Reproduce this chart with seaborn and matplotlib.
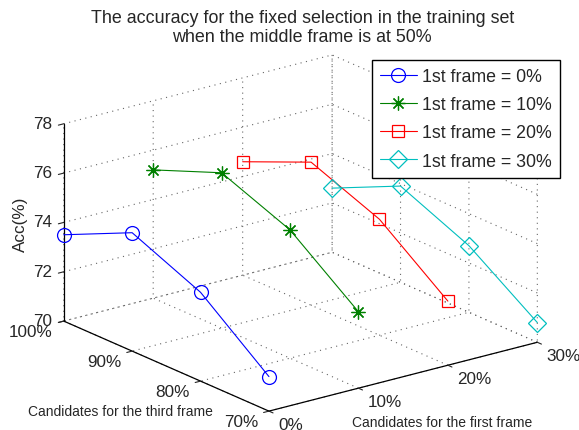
import matplotlib
matplotlib.use("Agg")
import matplotlib.pyplot as plt
import seaborn as sns

# ---- data ----
first_frame = [0, 10, 20, 30]            # candidates for the first frame (%)
third_frame = [100, 90, 80, 70]          # candidates for the third frame (%)
acc_first_0 = [73.5, 74.8, 73.6, 71.4]
acc_first_10 = [75.2, 76.3, 75.2, 73.1]
acc_first_20 = [74.6, 75.8, 74.7, 72.6]
acc_first_30 = [72.6, 73.9, 72.7, 70.8]
series_labels = ["1st frame = 0%", "1st frame = 10%", "1st frame = 20%", "1st frame = 30%"]
x_ticks = [0, 10, 20, 30]
x_ticklabels = ["0%", "10%", "20%", "30%"]
y_ticks = [70, 80, 90, 100]
y_ticklabels = ["70%", "80%", "90%", "100%"]
z_ticks = [70, 72, 74, 76, 78]
z_ticklabels = ["70", "72", "74", "76", "78"]

sns.set_style("white")
plt.rcParams["font.family"] = ["Liberation Sans", "DejaVu Sans"]
plt.rcParams["grid.linestyle"] = (0, (1, 4))
plt.rcParams["grid.color"] = "0.4"
plt.rcParams["grid.linewidth"] = 0.8
plt.rcParams["axes3d.automargin"] = False

colors = [(0, 0, 1), (0, 0.5, 0), (1, 0, 0), (0, 0.75, 0.75)]
markers = ["o", (8, 2, 0), "s", "D"]
msizes = [10, 10, 8.5, 9]
series = [acc_first_0, acc_first_10, acc_first_20, acc_first_30]

fig = plt.figure(figsize=(5.79, 4.31), dpi=100)
ax = fig.add_axes([0.009, -0.0565, 1.0, 1.0], projection="3d")
ax.set_proj_type("ortho")
ax.view_init(elev=19.6, azim=-127.4)
ax.set_box_aspect((1, 1, 0.62), zoom=1.175)

for fx, acc, lab, c, m, ms in zip(first_frame, series, series_labels, colors, markers, msizes):
    ax.plot([fx] * len(third_frame), third_frame, acc, color=c, marker=m, ms=ms,
            mfc="none", mec=c, mew=0.9, lw=0.8, label=lab, clip_on=False)

ax.set_xlim(0, 30)
ax.set_ylim(70, 100)
ax.set_zlim(70, 78)
tfs = 12.3
ax.set_xticks(x_ticks, x_ticklabels, fontsize=tfs)
ax.set_yticks(y_ticks, y_ticklabels, fontsize=tfs)
ax.set_zticks(z_ticks, z_ticklabels, fontsize=tfs)
for t in ax.get_xticklabels():
    t.set_ha("left")
    t.set_va("center")
for t in ax.get_yticklabels():
    t.set_ha("right")
    t.set_va("center")
for t in ax.get_zticklabels():
    t.set_ha("right")
    t.set_va("center")
ax.xaxis.set_tick_params(pad=-0.5)
ax.yaxis.set_tick_params(pad=-1.5)
ax.zaxis.set_tick_params(pad=-4)

for a in (ax.xaxis, ax.yaxis, ax.zaxis):
    a.pane.fill = False
    a.pane.set_edgecolor("none")
    a.line.set_color("black")
    a.line.set_linewidth(0.9)
    a._axinfo["tick"]["inward_factor"] = 0.25
    a._axinfo["tick"]["outward_factor"] = 0.0
    a._axinfo["tick"]["color"] = "black"
    a._axinfo["tick"]["linewidth"] = {True: 0.8, False: 0.5}

fig.text(0.522, 0.977, "The accuracy for the fixed selection in the training set\nwhen the middle frame is at 50%",
         ha="center", va="top", fontsize=12.9, linespacing=1.15)
fig.text(120 / 579, 1 - 412 / 431, "Candidates for the third frame", ha="center", va="center", fontsize=10)
fig.text(442 / 579, 1 - 423 / 431, "Candidates for the first frame", ha="center", va="center", fontsize=10)
fig.text(20 / 579, 1 - 224 / 431, "Acc(%)", ha="center", va="center", rotation=90, fontsize=tfs)

leg = ax.legend(loc="upper right", bbox_to_anchor=(560 / 579, 1 - 61 / 431),
                bbox_transform=fig.transFigure, fancybox=False, framealpha=1,
                edgecolor="black", fontsize=12.8, borderaxespad=0, handlelength=2.1,
                handletextpad=0.3, labelspacing=0.63, borderpad=0.45)
leg.get_frame().set_linewidth(1.0)

fig.savefig("out.png", dpi=100)
